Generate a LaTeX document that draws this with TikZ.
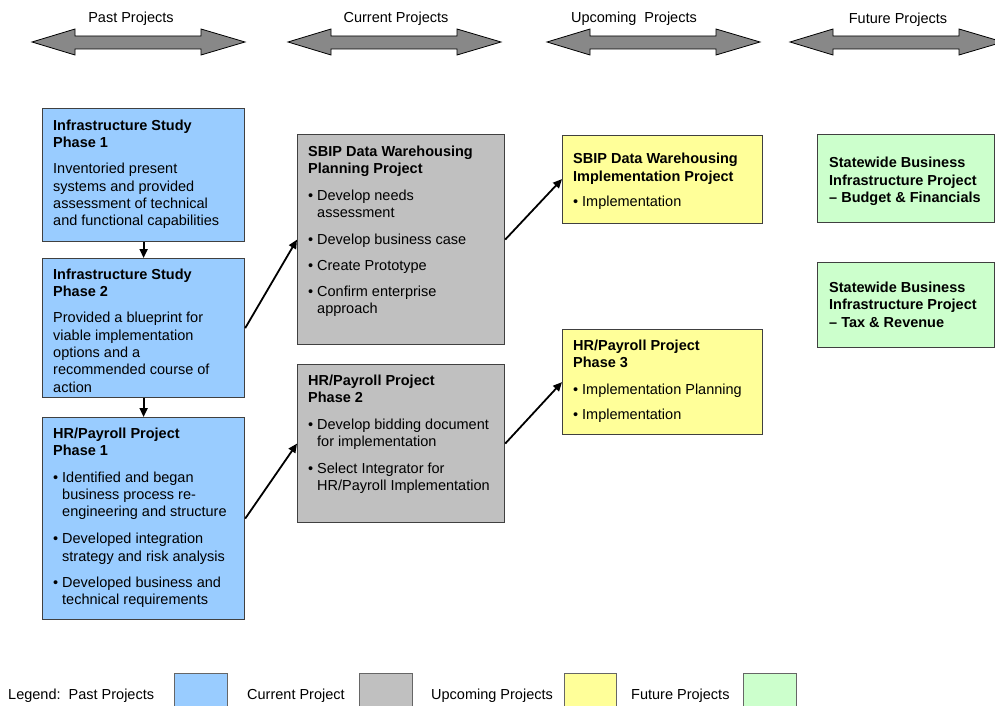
\documentclass[tikz,border=0pt]{standalone}
\usepackage{fontspec}
\setmainfont{Liberation Sans}
\usetikzlibrary{arrows.meta}
\definecolor{pastc}{RGB}{153,204,255}
\definecolor{curc}{RGB}{192,192,192}
\definecolor{upc}{RGB}{255,255,153}
\definecolor{futc}{RGB}{204,255,204}
\definecolor{hdrc}{RGB}{136,136,136}
\newcommand\bl{\makebox[9pt][l]{\textbullet}}
\newcommand\ind{\hspace*{9pt}}
\newcommand\st{\rule{0pt}{11pt}}
\begin{document}
\begin{tikzpicture}[x=1pt,y=-1pt,
  box/.style={draw=black!75, line width=1.2pt, rectangle, inner sep=0pt, anchor=north west},
  txt/.style={anchor=north west, align=left, inner sep=0pt, font=\fontsize{14.5}{17.4}\selectfont},
  conn/.style={line width=1.8pt, -{Triangle[length=9pt,width=8pt]}},
  hdr/.style={draw=black, fill=hdrc, line width=0.8pt},
  hlab/.style={anchor=base, inner sep=0pt, font=\fontsize{14.5}{17.4}\selectfont},
  leg/.style={anchor=base west, inner sep=0pt, font=\fontsize{14.5}{17.4}\selectfont},
  legbox/.style={draw=black!60, line width=1pt, rectangle, inner sep=0pt, anchor=north west, minimum height=40pt}]
\useasboundingbox (0,0) rectangle (995,706);

% header double arrows
\foreach \L in {32,288,547,790}{
  \draw[hdr] (\L,42) -- (\L+43,29) -- (\L+43,36) -- (\L+169,36) -- (\L+169,29) -- (\L+213,42)
     -- (\L+169,55) -- (\L+169,49) -- (\L+43,49) -- (\L+43,55) -- cycle;
}
\node[hlab] (h1) at (131,23) {Past Projects};
\node[hlab] (h2) at (396,23) {Current Projects};
\node[hlab] (h3) at (634,23) {Upcoming\ \ Projects};
\node[hlab] (h4) at (898,24) {Future Projects};

% boxes
\node[box, fill=pastc, minimum width=202pt, minimum height=133pt] (b1) at (42,108) {};
\node[box, fill=pastc, minimum width=202pt, minimum height=139pt] (b2) at (42,258) {};
\node[box, fill=pastc, minimum width=202pt, minimum height=202pt] (b3) at (42,417) {};
\node[box, fill=curc, minimum width=207pt, minimum height=210pt] (g1) at (297,134) {};
\node[box, fill=curc, minimum width=207pt, minimum height=158pt] (g2) at (297,364) {};
\node[box, fill=upc, minimum width=200pt, minimum height=88pt] (y1) at (562,134.5) {};
\node[box, fill=upc, minimum width=200pt, minimum height=105pt] (y2) at (562,329) {};
\node[box, fill=futc, minimum width=177pt, minimum height=88pt] (f1) at (817,134) {};
\node[box, fill=futc, minimum width=177pt, minimum height=85pt] (f2) at (817,262) {};

% texts (first baseline = y + 11)
\node[txt] (tb1) at (53,119) {\st\textbf{Infrastructure Study}\\\textbf{Phase 1}\\[8.6pt]Inventoried present\\systems and provided\\assessment of technical\\and functional capabilities};
\node[txt] (tb2) at (53,268) {\st\textbf{Infrastructure Study}\\\textbf{Phase 2}\\[8.6pt]Provided a blueprint for\\viable implementation\\options and a\\recommended course of\\action};
\node[txt] (tb3) at (53,427) {\st\textbf{HR/Payroll Project}\\\textbf{Phase 1}\\[9pt]\bl Identified and began\\\ind business process re-\\\ind engineering and structure\\[9.5pt]\bl Developed integration\\\ind strategy and risk analysis\\[9pt]\bl Developed business and\\\ind technical requirements};
\node[txt] (tg1) at (308,145) {\st\textbf{SBIP Data Warehousing}\\\textbf{Planning Project}\\[9pt]\bl Develop needs\\\ind assessment\\[9.5pt]\bl Develop business case\\[8.3pt]\bl Create Prototype\\[9pt]\bl Confirm enterprise\\\ind approach};
\node[txt] (tg2) at (308,374.3) {\st\textbf{HR/Payroll Project}\\\textbf{Phase 2}\\[9pt]\bl Develop bidding document\\\ind for implementation\\[9pt]\bl Select Integrator for\\\ind HR/Payroll Implementation};
\node[txt] (ty1) at (573,152.5) {\st\textbf{SBIP Data Warehousing}\\\textbf{Implementation Project}\\[8.3pt]\bl Implementation};
\node[txt] (ty2) at (573,339.2) {\st\textbf{HR/Payroll Project}\\\textbf{Phase 3}\\[9pt]\bl Implementation Planning\\[8.3pt]\bl Implementation};
\node[txt] (tf1) at (829,156.5) {\st\textbf{Statewide Business}\\\textbf{Infrastructure Project}\\\textbf{– Budget \& Financials}};
\node[txt] (tf2) at (829,281) {\st\textbf{Statewide Business}\\\textbf{Infrastructure Project}\\\textbf{– Tax \& Revenue}};

% connectors
\draw[conn] (b1.south) -- (b2.north);
\draw[conn] (b2.south) -- (b3.north);
\draw[conn] (b2.east) -- (g1.west);
\draw[conn] (b3.east) -- (g2.west);
\draw[conn] (g1.east) -- (y1.west);
\draw[conn] (g2.east) -- (y2.west);

% legend
\node[leg] (l1) at (8,699) {Legend:\ \ Past Projects};
\node[legbox, fill=pastc, minimum width=53pt] (lb1) at (174,673) {};
\node[leg] (l2) at (247,699) {Current Project};
\node[legbox, fill=curc, minimum width=53pt] (lb2) at (359,673) {};
\node[leg] (l3) at (431,699) {Upcoming Projects};
\node[legbox, fill=upc, minimum width=52pt] (lb3) at (564,673) {};
\node[leg] (l4) at (631,699) {Future Projects};
\node[legbox, fill=futc, minimum width=53pt] (lb4) at (743,673) {};
\end{tikzpicture}
\end{document}
